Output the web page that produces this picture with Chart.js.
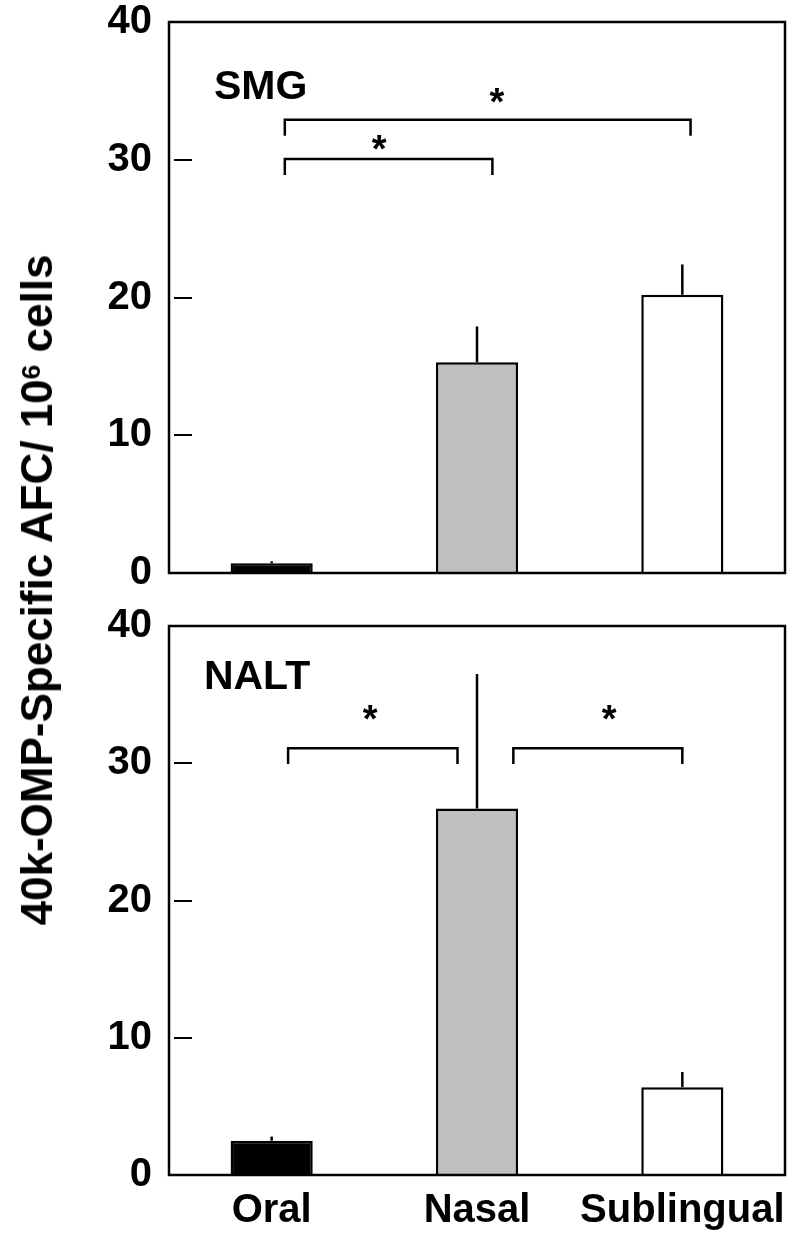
<!DOCTYPE html>
<html><head><meta charset="utf-8">
<script src="https://cdn.jsdelivr.net/npm/chart.js@4/dist/chart.umd.min.js"></script>
<style>
html,body{margin:0;padding:0;background:#fff;}
body{width:798px;height:1237px;position:relative;overflow:hidden;font-family:"Liberation Sans",Arial,sans-serif;}
#c1{position:absolute;left:0;top:0;}
#c2{position:absolute;left:0;top:600px;}
#ytitle{position:absolute;left:40px;top:590px;transform:translate(-50%,-50%) rotate(-90deg);white-space:nowrap;font-weight:bold;font-size:44px;line-height:44px;color:#000;}
#ytitle sup{font-size:0.6em;vertical-align:baseline;position:relative;top:-0.45em;}
</style></head><body>
<canvas id="c1" width="798" height="600"></canvas>
<canvas id="c2" width="798" height="637"></canvas>
<div id="ytitle">40k-OMP-Specific AFC/ 10<sup>6</sup> cells</div>
<script>
const categories = ['Oral', 'Nasal', 'Sublingual'];
const smgMeans = [0.7, 15.3, 20.2];
const smgErrors = [0.15, 2.6, 2.2];
const naltMeans = [2.5, 26.7, 6.4];
const naltErrors = [0.3, 9.8, 1.1];
const barColors = ['#000000', '#c0c0c0', '#ffffff'];
const yTickValues = [0, 10, 20, 30, 40];
const smgLabel = 'SMG';
const naltLabel = 'NALT';
// significance brackets: category-index positions and value levels
const smgBrackets = [
  {from: 0.064, to: 2.04, level: 32.9, drop: 1.16, starAt: 1.097, starLevel: 34.85},
  {from: 0.064, to: 1.075, level: 30.05, drop: 1.16, starAt: 0.523, starLevel: 31.43}
];
const naltBrackets = [
  {from: 0.08, to: 0.905, level: 31.1, drop: 1.16, starAt: 0.479, starLevel: 33.88},
  {from: 1.177, to: 2.0, level: 31.1, drop: 1.16, starAt: 1.643, starLevel: 33.88}
];
const FONT = '"Liberation Sans", Arial, sans-serif';

function xAt(xs, f) {
  const p0 = xs.getPixelForValue(0), p1 = xs.getPixelForValue(1);
  return p0 + f * (p1 - p0);
}

const decorPlugin = {
  id: 'decor',
  afterDatasetsDraw(chart, args, opts) {
    const ctx = chart.ctx, ca = chart.chartArea;
    const xs = chart.scales.x, ys = chart.scales.y;
    ctx.save();
    ctx.strokeStyle = '#000';
    ctx.lineCap = 'butt';
    // error bars (upper only, no cap)
    ctx.lineWidth = 2.5;
    const ds = chart.data.datasets[0];
    ds.data.forEach((v, i) => {
      const x = xs.getPixelForValue(i);
      ctx.beginPath();
      ctx.moveTo(x, ys.getPixelForValue(v));
      ctx.lineTo(x, ys.getPixelForValue(v + opts.errors[i]));
      ctx.stroke();
    });
    // frame
    ctx.lineWidth = 2.5;
    ctx.strokeRect(ca.left, ca.top, ca.right - ca.left, ca.bottom - ca.top);
    // inner tick marks
    ctx.lineWidth = 2;
    yTickValues.forEach(v => {
      if (v === ys.min || v === ys.max) return;
      const y = Math.round(ys.getPixelForValue(v));
      ctx.beginPath();
      ctx.moveTo(ca.left + 5, y);
      ctx.lineTo(ca.left + 23, y);
      ctx.stroke();
    });
    // brackets and stars
    ctx.lineWidth = 2.5;
    ctx.fillStyle = '#000';
    opts.brackets.forEach(b => {
      const x1 = xAt(xs, b.from), x2 = xAt(xs, b.to);
      const y = ys.getPixelForValue(b.level), yd = ys.getPixelForValue(b.level - b.drop);
      ctx.beginPath();
      ctx.moveTo(x1, yd); ctx.lineTo(x1, y); ctx.lineTo(x2, y); ctx.lineTo(x2, yd);
      ctx.stroke();
      ctx.font = 'bold 38px ' + FONT;
      ctx.textAlign = 'center';
      ctx.textBaseline = 'alphabetic';
      ctx.fillText('*', xAt(xs, b.starAt), ys.getPixelForValue(b.starLevel) + 22);
    });
    // panel label
    ctx.font = 'bold 41px ' + FONT;
    ctx.textAlign = 'left';
    ctx.textBaseline = 'alphabetic';
    ctx.fillText(opts.label, xAt(xs, opts.labelAt), ys.getPixelForValue(opts.labelLevel));
    ctx.restore();
  }
};

function makeChart(id, means, errors, brackets, label, labelAt, labelLevel, showX, padTop, xHeight) {
  return new Chart(document.getElementById(id), {
    type: 'bar',
    data: {
      labels: categories,
      datasets: [{
        data: means,
        backgroundColor: barColors,
        borderColor: '#000',
        borderWidth: 2.5,
        borderSkipped: 'start',
        categoryPercentage: 1,
        barPercentage: 0.4
      }]
    },
    options: {
      responsive: false,
      animation: false,
      layout: {padding: {top: padTop, right: 13, bottom: 0, left: 0}},
      plugins: {
        legend: {display: false},
        tooltip: {enabled: false},
        decor: {errors, brackets, label, labelAt, labelLevel}
      },
      scales: {
        x: {
          grid: {display: false, drawTicks: false},
          border: {display: false},
          ticks: {display: showX, color: '#000', padding: 12, autoSkip: false, maxRotation: 0, minRotation: 0,
                  font: {family: FONT, size: 40, weight: 'bold'}},
          afterFit(s) { s.height = xHeight; s.paddingLeft = 0; s.paddingRight = 0; }
        },
        y: {
          min: 0, max: 40,
          afterBuildTicks(s) { s.ticks = yTickValues.map(v => ({value: v})); },
          grid: {display: false, drawTicks: false},
          border: {display: false},
          ticks: {color: '#000', padding: 17, font: {family: FONT, size: 40, weight: 'bold'}},
          afterFit(s) { s.width = 169; s.paddingTop = 0; s.paddingBottom = 0; }
        }
      }
    },
    plugins: [decorPlugin]
  });
}

makeChart('c1', smgMeans, smgErrors, smgBrackets, smgLabel, -0.281, 34.4, false, 22, 27);
makeChart('c2', naltMeans, naltErrors, naltBrackets, naltLabel, -0.33, 35.4, true, 26, 62);
</script>
</body></html>
